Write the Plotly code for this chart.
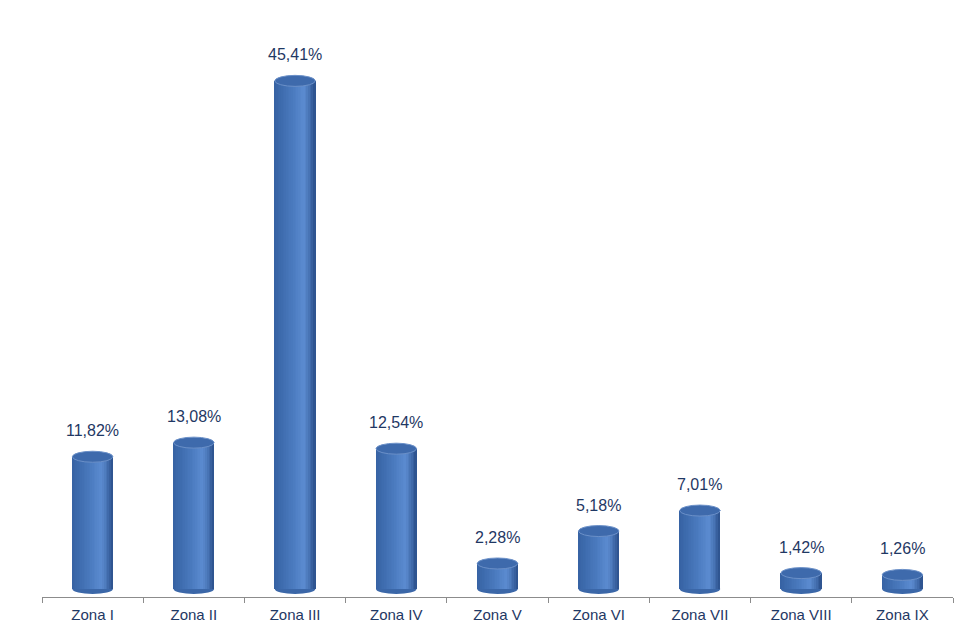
import plotly.graph_objects as go

# ---- data ----
categories = ["Zona I", "Zona II", "Zona III", "Zona IV", "Zona V",
              "Zona VI", "Zona VII", "Zona VIII", "Zona IX"]
values = [11.82, 13.08, 45.41, 12.54, 2.28, 5.18, 7.01, 1.42, 1.26]

# ---- style ----
BAR_W = 0.40
N_STRIPS = 24
TEXT_COLOR = "#1F3864"
FONT = "Liberation Sans, Arial, sans-serif"


def lerp(c1, c2, t):
    return tuple(int(round(a + (b - a) * t)) for a, b in zip(c1, c2))


def shade(p):
    # horizontal shading profile of the cylinder (p from 0 left to 1 right)
    left = (0x36, 0x62, 0xA3)
    mid = (0x4A, 0x7A, 0xBE)
    light = (0x5B, 0x8B, 0xD0)
    edge = (0x2A, 0x4F, 0x8A)
    if p < 0.45:
        c = lerp(left, mid, p / 0.45)
    elif p < 0.72:
        c = lerp(mid, light, (p - 0.45) / 0.27)
    else:
        c = lerp(light, edge, ((p - 0.72) / 0.28) ** 1.3)
    return "rgb(%d,%d,%d)" % c


fig = go.Figure()

sw = BAR_W / N_STRIPS
for k in range(N_STRIPS):
    p = (k + 0.5) / N_STRIPS
    fig.add_trace(go.Bar(
        x=categories, y=values,
        width=sw * 1.15,
        offset=-BAR_W / 2 + k * sw,
        marker=dict(color=shade(p), line=dict(width=0)),
        hoverinfo="skip", showlegend=False,
    ))

shapes = []
annotations = []
for i, (c, v) in enumerate(zip(categories, values)):
    # bottom ellipse (below bars)
    shapes.append(dict(
        type="circle", xref="x", yref="y", layer="below",
        x0=i - BAR_W / 2, x1=i + BAR_W / 2,
        ysizemode="pixel", yanchor=0, y0=-5, y1=5,
        fillcolor="#3B67A8", line=dict(width=0),
    ))
    # top ellipse
    shapes.append(dict(
        type="circle", xref="x", yref="y", layer="above",
        x0=i - BAR_W / 2, x1=i + BAR_W / 2,
        ysizemode="pixel", yanchor=v, y0=-5.5, y1=5.5,
        fillcolor="#3E6AAC", line=dict(color="#6B90C8", width=1),
    ))
    annotations.append(dict(
        x=c, y=v, xref="x", yref="y",
        text=("%.2f" % v).replace(".", ",") + "%",
        showarrow=False, yanchor="middle", yshift=26,
        font=dict(family=FONT, size=16, color=TEXT_COLOR),
    ))

fig.update_layout(
    width=968, height=628,
    barmode="overlay",
    bargap=0,
    plot_bgcolor="white", paper_bgcolor="white",
    margin=dict(l=34, r=23, t=12, b=39),
    shapes=shapes,
    annotations=annotations,
    xaxis=dict(
        type="category",
        showline=True, linecolor="#8C8C8C", linewidth=1.2,
        ticks="outside", tickson="boundaries", ticklen=5, tickcolor="#8C8C8C",
        tickwidth=1,
        showgrid=False, zeroline=False,
        ticklabelstandoff=4,
        tickfont=dict(family=FONT, size=15, color=TEXT_COLOR),
        range=[-0.5, len(categories) - 0.5],
    ),
    yaxis=dict(
        visible=False, range=[-0.715, 50.85],
        showgrid=False, zeroline=False,
    ),
)

fig.write_html("out.html")
